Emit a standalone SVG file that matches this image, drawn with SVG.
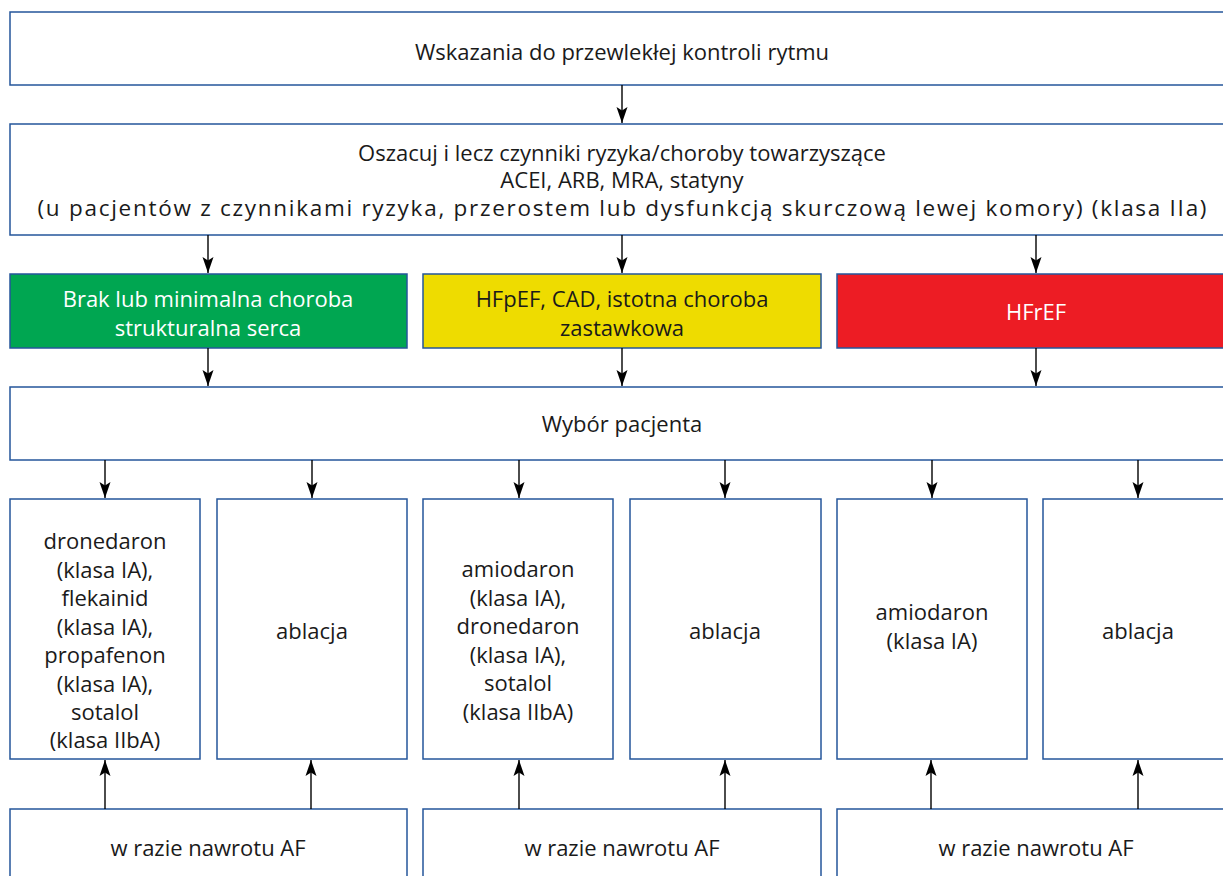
<svg xmlns="http://www.w3.org/2000/svg" width="1223" height="876" viewBox="0 0 1223 876">
<defs>
<marker id="ah" markerUnits="userSpaceOnUse" markerWidth="17" markerHeight="12" refX="16" refY="6" orient="auto" viewBox="0 0 17 12">
<path d="M0,0.5 L16,6 L0,11.5 L3.5,6 Z" fill="#000"/>
</marker>
<style>
.box{fill:#fff;stroke:#24569b;stroke-width:1.5}
.t{font-family:"Open Sans","Noto Sans",sans-serif;font-size:22px;fill:#1a1a1a;text-anchor:middle}
.w{fill:#fff}
.c{stroke:#000;stroke-width:1.4;fill:none}
</style>
</defs>
<rect width="1223" height="876" fill="#fff"/>
<g id="n-top"><rect class="box" x="10" y="12" width="1230" height="73"/><text class="t" x="622" y="60">Wskazania do przewlekłej kontroli rytmu</text></g>
<g id="n-risk"><rect class="box" x="10" y="124" width="1230" height="111"/>
<text class="t" x="622" y="161">Oszacuj i lecz czynniki ryzyka/choroby towarzyszące</text>
<text class="t" x="622" y="188">ACEI, ARB, MRA, statyny</text>
<text class="t" x="622" y="216" style="font-size:22.5px" textLength="1169" lengthAdjust="spacing">(u pacjentów z czynnikami ryzyka, przerostem lub dysfunkcją skurczową lewej komory) (klasa IIa)</text></g>
<g id="n-green"><rect class="box" x="10" y="274" width="397" height="74" style="fill:#00a651"/><text class="t w" x="208" y="307">Brak lub minimalna choroba</text><text class="t w" x="208" y="336">strukturalna serca</text></g>
<g id="n-yellow"><rect class="box" x="423" y="274" width="398" height="74" style="fill:#eedc00"/><text class="t" x="622" y="307">HFpEF, CAD, istotna choroba</text><text class="t" x="622" y="336">zastawkowa</text></g>
<g id="n-red"><rect class="box" x="837" y="274" width="400" height="74" style="fill:#ed1c24"/><text class="t w" x="1036" y="320">HFrEF</text></g>
<g id="n-select"><rect class="box" x="10" y="387" width="1230" height="73"/><text class="t" x="622" y="432">Wybór pacjenta</text></g>
<g id="n-d1"><rect class="box" x="10" y="499" width="190" height="260"/>
<text class="t" x="105" y="549">dronedaron</text><text class="t" x="105" y="578">(klasa IA),</text><text class="t" x="105" y="606">flekainid</text><text class="t" x="105" y="635">(klasa IA),</text><text class="t" x="105" y="663">propafenon</text><text class="t" x="105" y="692">(klasa IA),</text><text class="t" x="105" y="720">sotalol</text><text class="t" x="105" y="748">(klasa IIbA)</text></g>
<g id="n-a1"><rect class="box" x="217" y="499" width="190" height="260"/><text class="t" x="312" y="639">ablacja</text></g>
<g id="n-d2"><rect class="box" x="423" y="499" width="190" height="260"/>
<text class="t" x="518" y="577">amiodaron</text><text class="t" x="518" y="606">(klasa IA),</text><text class="t" x="518" y="634">dronedaron</text><text class="t" x="518" y="663">(klasa IA),</text><text class="t" x="518" y="691">sotalol</text><text class="t" x="518" y="720">(klasa IIbA)</text></g>
<g id="n-a2"><rect class="box" x="630" y="499" width="191" height="260"/><text class="t" x="725" y="639">ablacja</text></g>
<g id="n-d3"><rect class="box" x="837" y="499" width="190" height="260"/><text class="t" x="932" y="620">amiodaron</text><text class="t" x="932" y="649">(klasa IA)</text></g>
<g id="n-a3"><rect class="box" x="1043" y="499" width="190" height="260"/><text class="t" x="1138" y="639">ablacja</text></g>
<g id="n-r1"><rect class="box" x="10" y="809" width="397" height="80"/><text class="t" x="208" y="856">w razie nawrotu AF</text></g>
<g id="n-r2"><rect class="box" x="423" y="809" width="398" height="80"/><text class="t" x="622" y="856">w razie nawrotu AF</text></g>
<g id="n-r3"><rect class="box" x="837" y="809" width="400" height="80"/><text class="t" x="1036" y="856">w razie nawrotu AF</text></g>
<g id="connectors" class="c">
<line x1="622" y1="85" x2="622" y2="123" marker-end="url(#ah)"/>
<line x1="208" y1="235" x2="208" y2="273" marker-end="url(#ah)"/>
<line x1="622" y1="235" x2="622" y2="273" marker-end="url(#ah)"/>
<line x1="1036" y1="235" x2="1036" y2="273" marker-end="url(#ah)"/>
<line x1="208" y1="348" x2="208" y2="386" marker-end="url(#ah)"/>
<line x1="622" y1="348" x2="622" y2="386" marker-end="url(#ah)"/>
<line x1="1036" y1="348" x2="1036" y2="386" marker-end="url(#ah)"/>
<line x1="105" y1="460" x2="105" y2="498" marker-end="url(#ah)"/>
<line x1="312" y1="460" x2="312" y2="498" marker-end="url(#ah)"/>
<line x1="519" y1="460" x2="519" y2="498" marker-end="url(#ah)"/>
<line x1="725" y1="460" x2="725" y2="498" marker-end="url(#ah)"/>
<line x1="932" y1="460" x2="932" y2="498" marker-end="url(#ah)"/>
<line x1="1138" y1="460" x2="1138" y2="498" marker-end="url(#ah)"/>
<line x1="105" y1="809" x2="105" y2="760" marker-end="url(#ah)"/>
<line x1="311" y1="809" x2="311" y2="760" marker-end="url(#ah)"/>
<line x1="519" y1="809" x2="519" y2="760" marker-end="url(#ah)"/>
<line x1="725" y1="809" x2="725" y2="760" marker-end="url(#ah)"/>
<line x1="931" y1="809" x2="931" y2="760" marker-end="url(#ah)"/>
<line x1="1138" y1="809" x2="1138" y2="760" marker-end="url(#ah)"/>
</g>
</svg>
